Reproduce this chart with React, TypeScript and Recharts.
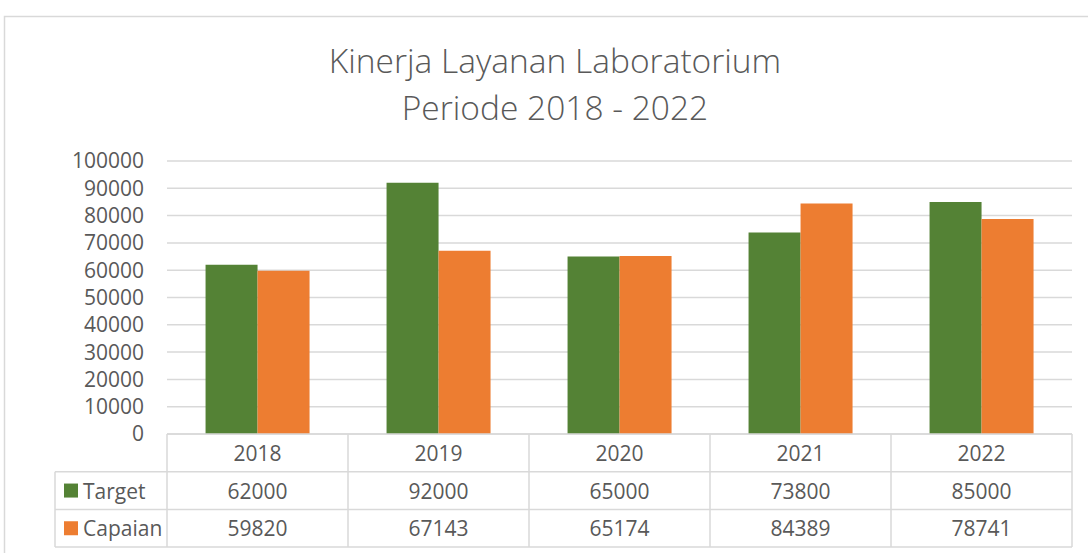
import React from "react";
import { BarChart, Bar, XAxis, YAxis, CartesianGrid } from "recharts";

const years = ["2018", "2019", "2020", "2021", "2022"];
const target = [62000, 92000, 65000, 73800, 85000];
const capaian = [59820, 67143, 65174, 84389, 78741];
const yTicks = [0, 10000, 20000, 30000, 40000, 50000, 60000, 70000, 80000, 90000, 100000];
const titleLines = ["Kinerja Layanan Laboratorium", "Periode 2018 - 2022"];

const GREEN = "#548235";
const ORANGE = "#ED7D31";
const LINE = "#D9D9D9";
const TEXT = "#595959";
const FONT = "'Open Sans', sans-serif";

const W = 1088;
const H = 553;
const PLOT_LEFT = 167;
const PLOT_RIGHT = 1072;
const PLOT_TOP = 161;
const PLOT_BOTTOM = 434;
const COL = (PLOT_RIGHT - PLOT_LEFT) / years.length;
const ROW = 37.7;
const LEGEND_W = 112;
const FS = 21;

const data = years.map((y, i) => ({ year: y, target: target[i], capaian: capaian[i] }));
const series = [
  { key: "target", name: "Target", color: GREEN, values: target },
  { key: "capaian", name: "Capaian", color: ORANGE, values: capaian },
];

// draws one column of the data table under each category
const TableTick = (props: any) => {
  const { x, y, payload, index } = props;
  const i = years.indexOf(payload.value);
  const l = x - COL / 2;
  const r = x + COL / 2;
  const bottom = y + ROW * 3;
  return (
    <g>
      <line x1={l} y1={y} x2={r} y2={y} stroke={LINE} strokeWidth={1.5} />
      {[1, 2, 3].map((k) => (
        <line key={k} x1={l} y1={y + ROW * k} x2={r} y2={y + ROW * k} stroke={LINE} strokeWidth={1.5} />
      ))}
      <line x1={l} y1={y} x2={l} y2={bottom} stroke={LINE} strokeWidth={1.5} />
      {index === years.length - 1 && <line x1={r} y1={y} x2={r} y2={bottom} stroke={LINE} strokeWidth={1.5} />}
      <text x={x} y={y + ROW / 2} textAnchor="middle" dominantBaseline="central" fill={TEXT} fontSize={FS} fontFamily={FONT}>
        {payload.value}
      </text>
      {series.map((s, k) => (
        <text key={s.key} x={x} y={y + ROW * (k + 1.5)} textAnchor="middle" dominantBaseline="central" fill={TEXT} fontSize={FS} fontFamily={FONT}>
          {s.values[i]}
        </text>
      ))}
      {index === 0 && (
        <g>
          {[1, 2, 3].map((k) => (
            <line key={k} x1={l - LEGEND_W} y1={y + ROW * k} x2={l} y2={y + ROW * k} stroke={LINE} strokeWidth={1.5} />
          ))}
          <line x1={l - LEGEND_W} y1={y + ROW} x2={l - LEGEND_W} y2={bottom} stroke={LINE} strokeWidth={1.5} />
          {series.map((s, k) => (
            <g key={s.key}>
              <rect x={l - LEGEND_W + 9} y={y + ROW * (k + 1.5) - 7} width={14} height={14} fill={s.color} />
              <text x={l - LEGEND_W + 28} y={y + ROW * (k + 1.5)} dominantBaseline="central" fill={TEXT} fontSize={FS} fontFamily={FONT}>
                {s.name}
              </text>
            </g>
          ))}
        </g>
      )}
    </g>
  );
};

export default function App() {
  return (
    <div style={{ position: "absolute", left: 0, top: 0, width: W, height: H, overflow: "hidden", background: "#fff" }}>
      <svg width={W} height={H} style={{ position: "absolute", left: 0, top: 0 }}>
        <rect x={4.5} y={16.5} width={1200} height={700} fill="none" stroke={LINE} strokeWidth={1.5} />
        {titleLines.map((t, k) => (
          <text key={k} x={555} y={73 + k * 47} textAnchor="middle" fill={TEXT} fontSize={33.5} fontWeight={300} fontFamily={FONT}>
            {t}
          </text>
        ))}
      </svg>
      <div style={{ position: "absolute", left: 0, top: 0 }}>
        <BarChart
          width={W}
          height={H}
          data={data}
          margin={{ top: PLOT_TOP, right: W - PLOT_RIGHT, bottom: 0, left: 0 }}
          barCategoryGap="21.3%"
          barGap={0}
        >
          <CartesianGrid vertical={false} stroke={LINE} strokeWidth={1.5} />
          <XAxis
            dataKey="year"
            height={H - PLOT_BOTTOM}
            axisLine={false}
            tickLine={false}
            tickSize={0}
            tickMargin={0}
            interval={0}
            tick={<TableTick />}
          />
          <YAxis
            width={PLOT_LEFT}
            domain={[0, 100000]}
            ticks={yTicks}
            interval={0}
            axisLine={false}
            tickLine={false}
            tickSize={0}
            tickMargin={23}
            tick={{ fill: TEXT, fontSize: FS, fontFamily: FONT }}
          />
          {series.map((s) => (
            <Bar key={s.key} dataKey={s.key} name={s.name} fill={s.color} isAnimationActive={false} />
          ))}
        </BarChart>
      </div>
    </div>
  );
}
